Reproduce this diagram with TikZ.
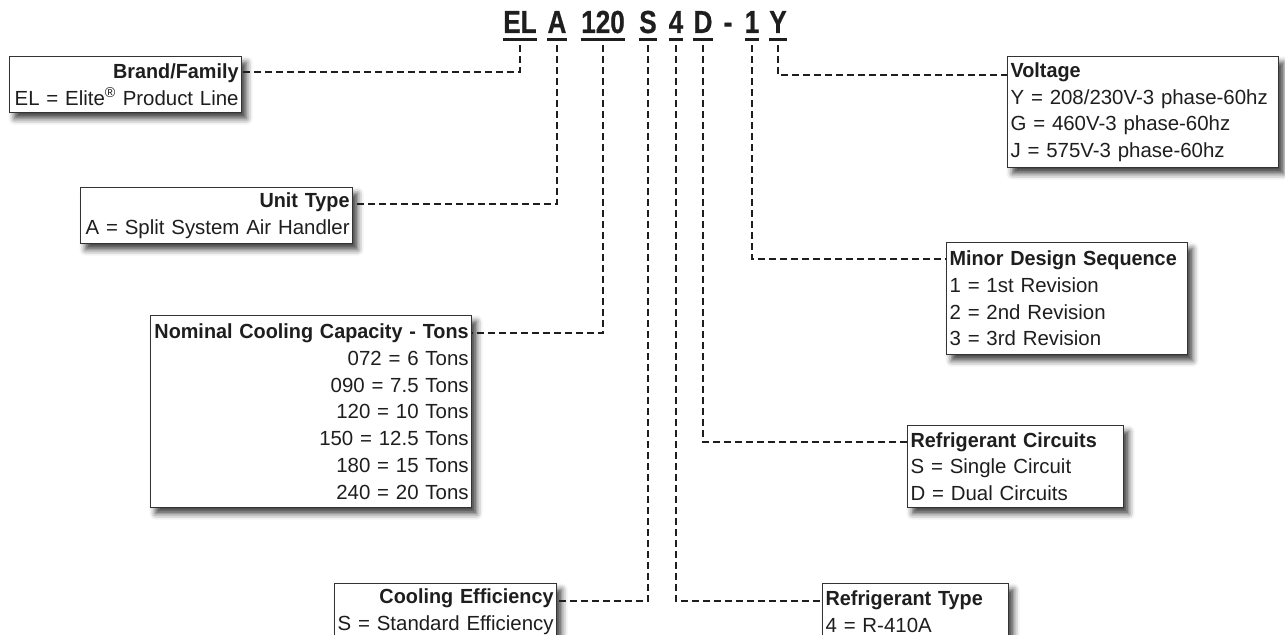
\documentclass[tikz,border=0pt]{standalone}
\usepackage{fontspec}
\setmainfont{Liberation Sans}[BoldFeatures={FakeStretch=0.97}]
\newfontfamily\codefont{Liberation Sans}[FakeStretch=0.82, FakeBold=0.6]
\usetikzlibrary{shadows.blur}
\definecolor{mnink}{HTML}{1E1E1E}
\definecolor{mnframe}{HTML}{333333}

\tikzset{
  infobox/.style={draw=mnframe, line width=1.2bp, fill=white, inner xsep=3bp, inner ysep=0bp,
    anchor=north west, text=mnink, font=\fontsize{20.5}{26.8}\selectfont,
    blur shadow={shadow xshift=5bp, shadow yshift=-6bp, shadow blur radius=6bp, shadow opacity=75}},
  leftbox/.style={infobox, align=right},
  rightbox/.style={infobox, align=left},
  codepart/.style={anchor=base, inner xsep=0bp, inner ysep=6bp, text depth=0bp, text=mnink,
    font=\codefont\bfseries\fontsize{32}{32}\selectfont},
  uline/.style={draw=mnink, line width=2.8bp},
  leader/.style={draw=mnink, line width=2bp, dash pattern=on 7bp off 4bp}
}

\begin{document}
\begin{tikzpicture}[x=1bp, y=-1bp]
  \useasboundingbox (0,0) rectangle (1285,635);

  % model number parts
  \node[codepart] (cEL)  at (520,33) {EL};
  \node[codepart] (cA)   at (557,33) {A};
  \node[codepart] (c120) at (603,33) {120};
  \node[codepart] (cS)   at (648,33) {S};
  \node[codepart] (c4)   at (676,33) {4};
  \node[codepart] (cD)   at (703,33) {D};
  \node[codepart] (cdash) at (728,33) {-};
  \node[codepart] (c1)   at (752,33) {1};
  \node[codepart] (cY)   at (778,33) {Y};
  \foreach \c in {cEL,cA,c120,cS,c4,cD,c1,cY}
    \draw[uline] (\c.south west) -- (\c.south east);

  % left boxes
  \node[leftbox, text width=226bp, minimum height=56bp] (brand) at (9,56)
    {\textbf{Brand/Family}\\EL = Elite\textsuperscript{®} Product Line};
  \node[leftbox, text width=266bp, minimum height=56bp] (unit) at (80,187)
    {\textbf{Unit Type}\\A = Split System Air Handler};
  \node[leftbox, text width=315bp, minimum height=192bp] (nominal) at (150,315)
    {\textbf{Nominal Cooling Capacity - Tons}\\072 = 6 Tons\\090 = 7.5 Tons\\120 = 10 Tons\\150 = 12.5 Tons\\180 = 15 Tons\\240 = 20 Tons};
  \node[leftbox, text width=216bp, minimum height=56bp] (cooling) at (334,583)
    {\textbf{Cooling Efficiency}\\S = Standard Efficiency};

  % right boxes
  \node[rightbox, text width=265bp, minimum height=111bp] (voltage) at (1007,56)
    {\textbf{Voltage}\\Y = 208/230V-3 phase-60hz\\G = 460V-3 phase-60hz\\J = 575V-3 phase-60hz};
  \node[rightbox, text width=235bp, minimum height=112bp] (minor) at (946,242)
    {\textbf{Minor Design Sequence}\\1 = 1st Revision\\2 = 2nd Revision\\3 = 3rd Revision};
  \node[rightbox, text width=210bp, minimum height=82bp] (circuits) at (907,425)
    {\textbf{Refrigerant Circuits}\\S = Single Circuit\\D = Dual Circuits};
  \node[rightbox, text width=180bp, minimum height=56bp] (reftype) at (822,583)
    {\textbf{Refrigerant Type}\\4 = R-410A};

  % leaders
  \draw[leader] ([yshift=-6bp]cEL.south) |- ([yshift=-16bp]brand.north east);
  \draw[leader] ([yshift=-6bp]cA.south) |- ([yshift=-17bp]unit.north east);
  \draw[leader] ([yshift=-6bp]c120.south) |- ([yshift=-18bp]nominal.north east);
  \draw[leader] ([yshift=-6bp]cS.south) |- ([yshift=-18bp]cooling.north east);
  \draw[leader] ([yshift=-6bp]c4.south) |- ([yshift=-18bp]reftype.north west);
  \draw[leader] ([yshift=-6bp]cD.south) |- ([yshift=-17bp]circuits.north west);
  \draw[leader] ([yshift=-6bp]c1.south) |- ([yshift=-17bp]minor.north west);
  \draw[leader] ([yshift=-6bp]cY.south) |- ([yshift=-19bp]voltage.north west);
\end{tikzpicture}
\end{document}
